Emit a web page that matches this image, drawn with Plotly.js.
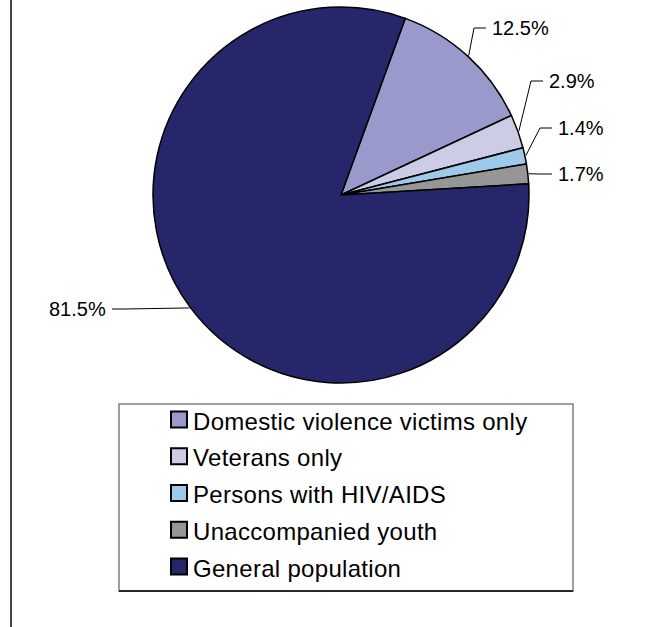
<!DOCTYPE html>
<html>
<head>
<meta charset="utf-8">
<script src="https://cdn.plot.ly/plotly-3.0.1.min.js"></script>
<style>
  html, body { margin: 0; padding: 0; background: #fff; }
  #chart { width: 668px; height: 627px; }
  #chart .legend .legendtext { font-size: 24px !important; letter-spacing: 0.3px; }
  #chart .legend .legendpoints path { transform: translate(26px, 0px) scale(1.33); }
</style>
</head>
<body>
<div id="chart"></div>
<script>
// ---- data ----
const categories = [
  "Domestic violence victims only",
  "Veterans only",
  "Persons with HIV/AIDS",
  "Unaccompanied youth",
  "General population"
];
const shares = [12.5, 2.9, 1.4, 1.7, 81.5];
const sliceColors = ["#9999CC", "#CCCCE6", "#9FC9EB", "#969696", "#26266B"];

// ---- layout / style (pixels) ----
const W = 668, H = 627;
const cx = 341, cy = 195, R = 188;   // pie centre and radius
const rotationDeg = 20;
// label text anchors: [x, y, side]
const labelAnchors = [
  [490, 28, "left"],
  [547, 81, "left"],
  [556, 128, "left"],
  [556, 174, "left"],
  [108, 309, "right"]
];

const px = x => x / W;
const py = y => 1 - y / H;

const total = shares.reduce((a, b) => a + b, 0);
const shapes = [];
const annotations = [];
let cum = 0;
shares.forEach((v, i) => {
  const mid = (rotationDeg + (cum + v / 2) / total * 360) * Math.PI / 180;
  cum += v;
  const ax = cx + (R + 1) * Math.sin(mid);
  const ay = cy - (R + 1) * Math.cos(mid);
  const [tx, ty, side] = labelAnchors[i];
  const sgn = side === "left" ? -1 : 1;
  const ex = tx + sgn * 4;
  const bx = tx + sgn * 16;
  shapes.push({
    type: "path", xref: "paper", yref: "paper",
    path: `M ${px(ax)},${py(ay)} L ${px(bx)},${py(ty)} L ${px(ex)},${py(ty)}`,
    line: { color: "#000", width: 1 }
  });
  annotations.push({
    xref: "paper", yref: "paper",
    x: px(tx), y: py(ty),
    xanchor: side, yanchor: "middle",
    showarrow: false,
    text: v.toFixed(1) + "%",
    font: { family: "Liberation Sans, Arial, sans-serif", size: 20, color: "#000" }
  });
});

// frame line on the left
shapes.push({ type: "line", xref: "paper", yref: "paper",
  x0: px(11), x1: px(11), y0: 0, y1: 1, line: { color: "#444", width: 2 } });
// legend box
shapes.push({ type: "rect", xref: "paper", yref: "paper",
  x0: px(119), x1: px(573), y0: py(591), y1: py(404),
  line: { color: "#808080", width: 1.5 } });
shapes.push({ type: "line", xref: "paper", yref: "paper",
  x0: px(119), x1: px(573), y0: py(591), y1: py(591),
  line: { color: "#000", width: 1.5 } });

const trace = {
  type: "pie",
  labels: categories,
  values: shares,
  sort: false,
  direction: "clockwise",
  rotation: rotationDeg,
  textinfo: "none",
  hoverinfo: "none",
  marker: { colors: sliceColors, line: { color: "#000", width: 1.5 } },
  domain: { x: [px(cx - R), px(cx + R)], y: [py(cy + R), py(cy - R)] }
};

const layout = {
  width: W, height: H,
  margin: { l: 0, r: 0, t: 0, b: 0 },
  paper_bgcolor: "#fff",
  showlegend: true,
  legend: {
    x: px(153), xanchor: "left",
    y: py(396), yanchor: "top",
    bgcolor: "rgba(0,0,0,0)", borderwidth: 0,
    font: { family: "Liberation Sans, Arial, sans-serif", size: 26, color: "#000" }
  },
  shapes: shapes,
  annotations: annotations
};

Plotly.newPlot("chart", [trace], layout, { staticPlot: true });
</script>
</body>
</html>
